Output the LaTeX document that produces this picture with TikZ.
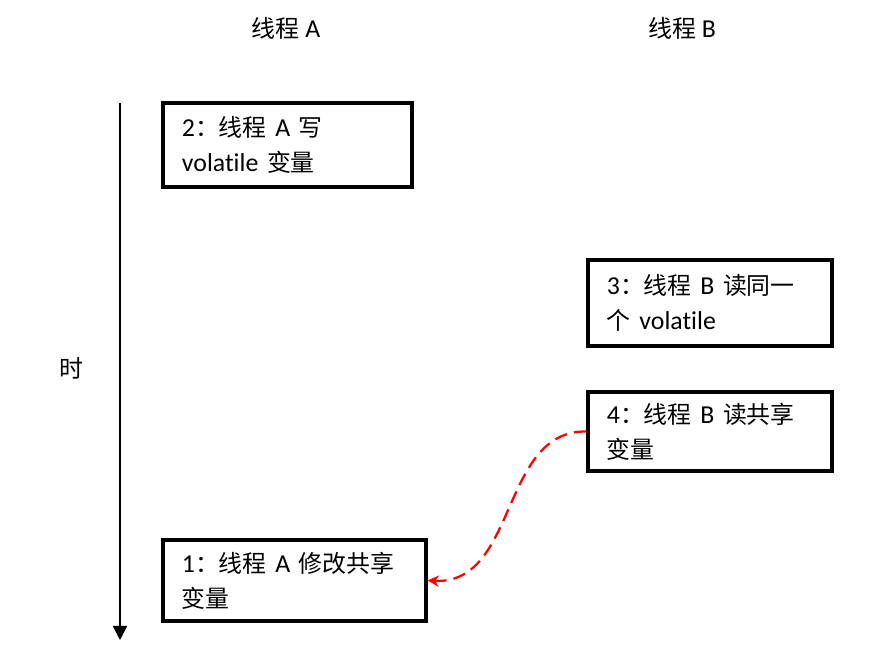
\documentclass[tikz,border=0pt]{standalone}
\usepackage{fontspec}
\setmainfont[Scale=1.08,Ligatures=NoCommon]{Carlito}
\newfontfamily\cjk{Noto Sans CJK SC}
\usetikzlibrary{arrows.meta}

\begin{document}
\begin{tikzpicture}[x=0.025cm,y=-0.025cm,
font=\fontsize{17}{25}\selectfont,
evbox/.style={draw,line width=2.2pt,rectangle,align=left,inner xsep=0pt},
flow/.style={red,line width=1.6pt,dash pattern=on 9pt off 5pt,-{Stealth[length=8pt,width=8pt]}}]
\useasboundingbox (0,0) rectangle (890,667);
% heads
\node (headA) at (286,28) {{\cjk 线程} A};
\node (headB) at (682,28) {{\cjk 线程} B};
% time axis
\coordinate (ttop) at (120,103);
\coordinate (tbot) at (120,640);
\draw[line width=1.2pt,-{Triangle[length=10pt,width=10pt]}] (ttop) -- (tbot);
\node (tlabel) at (71,368) {\cjk 时};
% events
\node[evbox,minimum width=6.225cm,minimum height=2.1cm,text width=5.275cm] (ev2) at (287.5,145)
  {2{\cjk ：线程} A {\cjk 写}\\volatile {\cjk 变量}};
\node[evbox,minimum width=6.1cm,minimum height=2.15cm,text width=5.15cm] (ev3) at (710,303)
  {3{\cjk ：线程} B {\cjk 读同一}\\{\cjk 个} volatile};
\node[evbox,minimum width=6.1cm,minimum height=1.975cm,text width=5.15cm] (ev4) at (710,431.5)
  {4{\cjk ：线程} B {\cjk 读共享}\\{\cjk 变量}};
\node[evbox,minimum width=6.575cm,minimum height=2.025cm,text width=5.625cm] (ev1) at (294.5,580.5)
  {1{\cjk ：线程} A {\cjk 修改共享}\\{\cjk 变量}};
% read back
\draw[flow] (ev4.west) .. controls (500,430) and (518,585) .. (ev1.east);
\end{tikzpicture}
\end{document}
